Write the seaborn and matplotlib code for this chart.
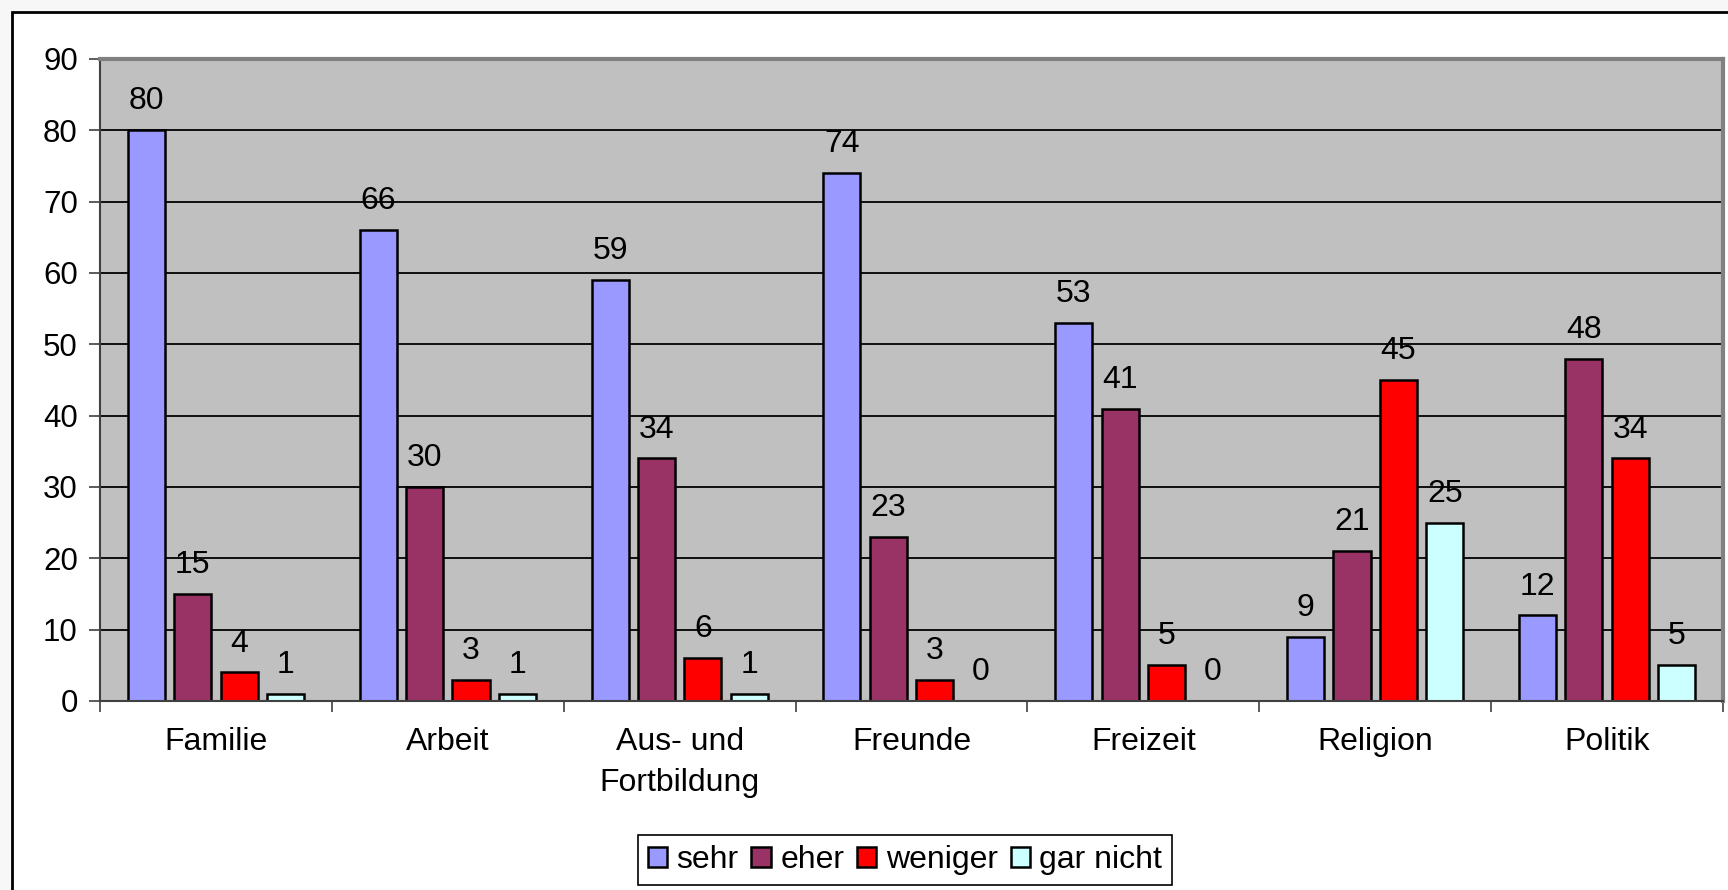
import numpy as np
import pandas as pd
import matplotlib
matplotlib.use("Agg")
import matplotlib.pyplot as plt
import seaborn as sns
from matplotlib.patches import Rectangle

# data
categories = ['Familie', 'Arbeit', 'Aus- und\nFortbildung', 'Freunde', 'Freizeit', 'Religion', 'Politik']
sehr = [80, 66, 59, 74, 53, 9, 12]
eher = [15, 30, 34, 23, 41, 21, 48]
weniger = [4, 3, 6, 3, 5, 45, 34]
gar_nicht = [1, 1, 1, 0, 0, 25, 5]
series_names = ['sehr', 'eher', 'weniger', 'gar nicht']
colors = ['#9999FF', '#993366', '#FF0000', '#CCFFFF']
yticks = list(range(0, 91, 10))

df = pd.DataFrame({'kategorie': categories, 'sehr': sehr, 'eher': eher,
                   'weniger': weniger, 'gar nicht': gar_nicht})
dfm = df.melt(id_vars='kategorie', var_name='serie', value_name='wert')

sns.set_style('white')
plt.rcParams['font.family'] = ['Liberation Sans', 'DejaVu Sans']
plt.rcParams['text.color'] = 'black'

fs = 23

fig = plt.figure(figsize=(17.28, 8.90), dpi=100, facecolor='#f7f7f7')
# outer chart frame (right and bottom edges run off the picture)
fig.patches.append(Rectangle((12 / 1728, -0.1), 1.2, 1.1 - 12 / 890,
                             transform=fig.transFigure, facecolor='white',
                             edgecolor='black', lw=2, zorder=-1))

ax = fig.add_axes([100 / 1728, 1 - 701 / 890, 1623 / 1728, 642 / 890])

sns.barplot(
    dfm, x='kategorie', y='wert', hue='serie',
    order=categories, hue_order=series_names,
    palette=colors, width=0.8, gap=0.2,
    edgecolor='black', linewidth=1.8, saturation=1,
    errorbar=None, legend=True, ax=ax
)

for cont in ax.containers:
    ax.bar_label(cont, padding=10, fontsize=fs, color='black')

ax.set_facecolor('#C0C0C0')
ax.set_xlim(-0.5, len(categories) - 0.5)
ax.set_ylim(0, 90)
ax.set_yticks(yticks)
ax.set_xlabel('')
ax.set_ylabel('')
ax.set_axisbelow(True)
ax.yaxis.grid(True, color='black', lw=1.3)

ax.tick_params(axis='y', labelsize=fs - 0.5, labelcolor='black', length=8, width=1.2,
               color='#404040', direction='out', pad=8, left=True)
ax.tick_params(axis='x', which='major', labelsize=fs, labelcolor='black', length=0, pad=19)
ax.set_xticks(np.arange(-0.5, len(categories), 1), minor=True)
ax.tick_params(axis='x', which='minor', length=8, width=1.2, color='#404040',
               direction='out', bottom=True)
for lab in ax.get_xticklabels():
    lab.set_linespacing(1.45)

for side in ['left', 'bottom']:
    ax.spines[side].set_color('#404040')
    ax.spines[side].set_linewidth(1.5)
for side in ['top', 'right']:
    ax.spines[side].set_color('#808080')
    ax.spines[side].set_linewidth(3)

handles, labels = ax.get_legend_handles_labels()
ax.get_legend().remove()
leg = fig.legend(handles, labels, loc='center', bbox_to_anchor=(905 / 1728, 1 - 860 / 890),
                 ncols=4, fontsize=fs, frameon=True, fancybox=False,
                 edgecolor='black', framealpha=1, handlelength=0.6,
                 handleheight=0.6, handletextpad=0.3, columnspacing=0.4,
                 borderpad=0.3, borderaxespad=0)
leg.get_frame().set_linewidth(1.2)

fig.savefig('out.png', dpi=100, facecolor=fig.get_facecolor())
